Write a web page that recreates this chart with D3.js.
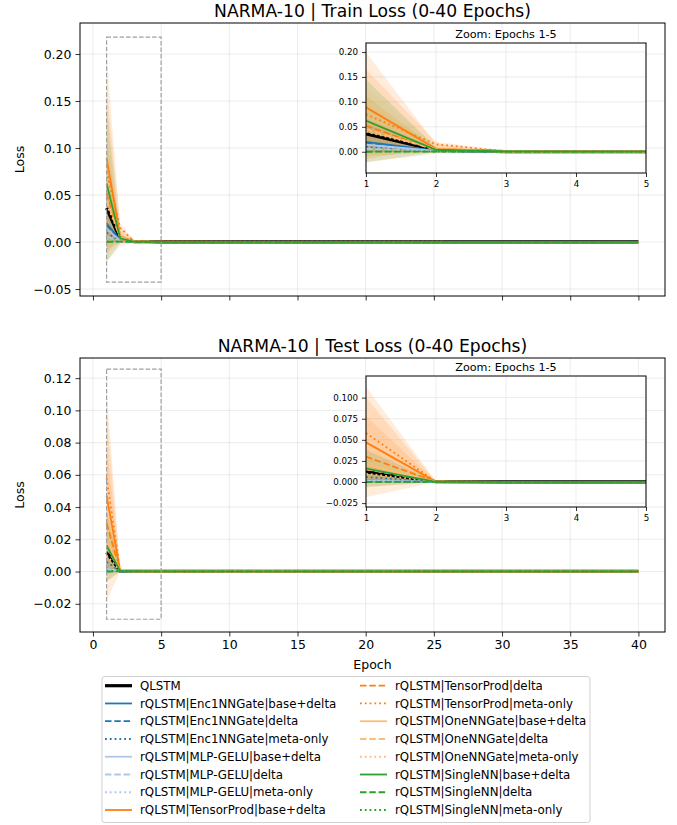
<!DOCTYPE html>
<html>
<head>
<meta charset="utf-8">
<script src="https://cdn.jsdelivr.net/npm/d3@7"></script>
<style>
  body { margin: 0; background: #fff; }
  svg { font-family: "DejaVu Sans", sans-serif; }
  .tick text { fill: #000; }
</style>
</head>
<body>
<script>
// epochs that carry values (curves are flat after epoch 5)
const epochs = [1, 2, 3, 4, 5, 40];

const seriesNames = [
    'QLSTM',
    'rQLSTM|Enc1NNGate|base+delta', 'rQLSTM|Enc1NNGate|delta', 'rQLSTM|Enc1NNGate|meta-only',
    'rQLSTM|MLP-GELU|base+delta', 'rQLSTM|MLP-GELU|delta', 'rQLSTM|MLP-GELU|meta-only',
    'rQLSTM|TensorProd|base+delta', 'rQLSTM|TensorProd|delta', 'rQLSTM|TensorProd|meta-only',
    'rQLSTM|OneNNGate|base+delta', 'rQLSTM|OneNNGate|delta', 'rQLSTM|OneNNGate|meta-only',
    'rQLSTM|SingleNN|base+delta', 'rQLSTM|SingleNN|delta', 'rQLSTM|SingleNN|meta-only'
];

// mean / std per series, one row per series, columns follow `epochs`
const trainMean = [
    [0.036, 0.003, 0.0004, 0.0003, 0.0002, 0.0001],
    [0.020, 0.002, 0.0003, 0.0002, 0.0002, 0.0001],
    [0.018, 0.0015, 0.0003, 0.0002, 0.0001, 0.0001],
    [0.010, 0.001, 0.0002, 0.0002, 0.0001, 0.0001],
    [0.014, 0.0015, 0.0003, 0.0002, 0.0001, 0.0001],
    [0.006, 0.001, 0.0002, 0.0001, 0.0001, 0.0001],
    [0.003, 0.0008, 0.0002, 0.0001, 0.0001, 0.0001],
    [0.089, 0.006, 0.0006, 0.0004, 0.0003, 0.0002],
    [0.052, 0.003, 0.0005, 0.0003, 0.0002, 0.0001],
    [0.075, 0.015, 0.0010, 0.0005, 0.0004, 0.0002],
    [0.060, 0.005, 0.0005, 0.0003, 0.0002, 0.0001],
    [0.045, 0.004, 0.0004, 0.0003, 0.0002, 0.0001],
    [0.040, 0.006, 0.0005, 0.0003, 0.0002, 0.0001],
    [0.062, 0.004, 0.0005, 0.0003, 0.0002, 0.0001],
    [0.000, 0.0005, 0.0002, 0.0001, 0.0001, 0.0001],
    [0.0008, 0.0005, 0.0002, 0.0001, 0.0001, 0.0001]
];
const trainStd = [
    [0.030, 0.003, 0.0005, 0.0003, 0.0002, 0.0001],
    [0.020, 0.002, 0.0003, 0.0002, 0.0002, 0.0001],
    [0.015, 0.002, 0.0003, 0.0002, 0.0001, 0.0001],
    [0.010, 0.001, 0.0002, 0.0002, 0.0001, 0.0001],
    [0.012, 0.0015, 0.0003, 0.0002, 0.0001, 0.0001],
    [0.006, 0.001, 0.0002, 0.0001, 0.0001, 0.0001],
    [0.003, 0.0008, 0.0002, 0.0001, 0.0001, 0.0001],
    [0.110, 0.010, 0.0010, 0.0004, 0.0003, 0.0002],
    [0.060, 0.004, 0.0005, 0.0003, 0.0002, 0.0001],
    [0.090, 0.005, 0.0010, 0.0005, 0.0004, 0.0002],
    [0.070, 0.006, 0.0005, 0.0003, 0.0002, 0.0001],
    [0.050, 0.005, 0.0004, 0.0003, 0.0002, 0.0001],
    [0.040, 0.006, 0.0005, 0.0003, 0.0002, 0.0001],
    [0.083, 0.005, 0.0005, 0.0003, 0.0002, 0.0001],
    [0.001, 0.0005, 0.0002, 0.0001, 0.0001, 0.0001],
    [0.001, 0.0005, 0.0002, 0.0001, 0.0001, 0.0001]
];

const testMean = [
    [0.012, 0.0003, 0.0002, 0.0002, 0.0002, 0.0001],
    [0.002, 0.0002, 0.0002, 0.0001, 0.0001, 0.0001],
    [0.001, 0.0002, 0.0001, 0.0001, 0.0001, 0.0001],
    [0.006, 0.0002, 0.0001, 0.0001, 0.0001, 0.0001],
    [0.002, 0.0002, 0.0001, 0.0001, 0.0001, 0.0001],
    [0.001, 0.0002, 0.0001, 0.0001, 0.0001, 0.0001],
    [0.0005, 0.0002, 0.0001, 0.0001, 0.0001, 0.0001],
    [0.047, 0.0003, 0.0002, 0.0002, 0.0001, 0.0001],
    [0.030, 0.0003, 0.0002, 0.0001, 0.0001, 0.0001],
    [0.058, 0.0004, 0.0002, 0.0002, 0.0001, 0.0001],
    [0.020, 0.0003, 0.0002, 0.0001, 0.0001, 0.0001],
    [0.015, 0.0003, 0.0002, 0.0001, 0.0001, 0.0001],
    [0.010, 0.0003, 0.0002, 0.0001, 0.0001, 0.0001],
    [0.016, 0.0003, 0.0002, 0.0001, 0.0001, 0.0001],
    [0.000, 0.0002, 0.0001, 0.0001, 0.0001, 0.0001],
    [0.0005, 0.0002, 0.0001, 0.0001, 0.0001, 0.0001]
];
const testStd = [
    [0.008, 0.0002, 0.0001, 0.0001, 0.0001, 0.0001],
    [0.003, 0.0002, 0.0001, 0.0001, 0.0001, 0.0001],
    [0.002, 0.0002, 0.0001, 0.0001, 0.0001, 0.0001],
    [0.005, 0.0002, 0.0001, 0.0001, 0.0001, 0.0001],
    [0.002, 0.0002, 0.0001, 0.0001, 0.0001, 0.0001],
    [0.001, 0.0002, 0.0001, 0.0001, 0.0001, 0.0001],
    [0.0005, 0.0002, 0.0001, 0.0001, 0.0001, 0.0001],
    [0.053, 0.0003, 0.0002, 0.0001, 0.0001, 0.0001],
    [0.048, 0.0003, 0.0002, 0.0001, 0.0001, 0.0001],
    [0.055, 0.0004, 0.0002, 0.0001, 0.0001, 0.0001],
    [0.020, 0.0003, 0.0002, 0.0001, 0.0001, 0.0001],
    [0.015, 0.0003, 0.0002, 0.0001, 0.0001, 0.0001],
    [0.012, 0.0003, 0.0002, 0.0001, 0.0001, 0.0001],
    [0.022, 0.0003, 0.0002, 0.0001, 0.0001, 0.0001],
    [0.001, 0.0002, 0.0001, 0.0001, 0.0001, 0.0001],
    [0.001, 0.0002, 0.0001, 0.0001, 0.0001, 0.0001]
];

const mainXTicks = [0, 5, 10, 15, 20, 25, 30, 35, 40];
const trainYTicks = [-0.05, 0, 0.05, 0.10, 0.15, 0.20];
const testYTicks = [-0.02, 0, 0.02, 0.04, 0.06, 0.08, 0.10, 0.12];
const zoomXTicks = [1, 2, 3, 4, 5];
const trainZoomYTicks = [0, 0.05, 0.10, 0.15, 0.20];
const testZoomYTicks = [-0.025, 0, 0.025, 0.05, 0.075, 0.1];

// styles
const familyColors = ['#000000', '#1f77b4', '#1f77b4', '#1f77b4', '#aec7e8', '#aec7e8', '#aec7e8',
    '#ff7f0e', '#ff7f0e', '#ff7f0e', '#ffbb78', '#ffbb78', '#ffbb78', '#2ca02c', '#2ca02c', '#2ca02c'];
const dashFor = i => i === 0 ? null : ['', '6.5,2.8', '1.8,3'][(i - 1) % 3] || null;
const widthFor = i => i === 0 ? 3.2 : 1.8;

const W = 677, H = 825;
const svg = d3.select('body').append('svg').attr('width', W).attr('height', H);

let clipId = 0;

function drawAxes(g, box, xDomain, yDomain, xTicks, yTicks, opts) {
    const x = d3.scaleLinear().domain(xDomain).range([box.x, box.x + box.w]);
    const y = d3.scaleLinear().domain(yDomain).range([box.y + box.h, box.y]);
    const fs = opts.fontSize;

    g.append('rect').attr('x', box.x).attr('y', box.y).attr('width', box.w).attr('height', box.h)
        .attr('fill', '#fff');

    // grid
    g.append('g').selectAll('line').data(xTicks).join('line')
        .attr('x1', d => x(d)).attr('x2', d => x(d)).attr('y1', box.y).attr('y2', box.y + box.h)
        .attr('stroke', '#b0b0b0').attr('stroke-opacity', 0.3).attr('stroke-width', 0.8);
    g.append('g').selectAll('line').data(yTicks).join('line')
        .attr('x1', box.x).attr('x2', box.x + box.w).attr('y1', d => y(d)).attr('y2', d => y(d))
        .attr('stroke', '#b0b0b0').attr('stroke-opacity', 0.3).attr('stroke-width', 0.8);

    const id = 'clip' + (clipId++);
    g.append('clipPath').attr('id', id).append('rect')
        .attr('x', box.x).attr('y', box.y).attr('width', box.w).attr('height', box.h);
    const plot = g.append('g').attr('clip-path', `url(#${id})`);

    // std bands
    const area = d3.area().x(d => x(d.e)).y0(d => y(d.m - d.s)).y1(d => y(d.m + d.s));
    const line = d3.line().x(d => x(d.e)).y(d => y(d.m));
    const rows = seriesNames.map((n, i) => epochs.map((e, j) => ({ e, m: opts.mean[i][j], s: opts.std[i][j] })));
    rows.forEach((r, i) => {
        plot.append('path').attr('d', area(r)).attr('fill', familyColors[i]).attr('fill-opacity', 0.15);
    });
    rows.forEach((r, i) => {
        plot.append('path').attr('d', line(r)).attr('fill', 'none')
            .attr('stroke', familyColors[i]).attr('stroke-width', widthFor(i))
            .attr('stroke-dasharray', dashFor(i));
    });

    if (opts.rect) {
        plot.append('rect')
            .attr('x', x(opts.rect.x0)).attr('y', y(opts.rect.y1))
            .attr('width', x(opts.rect.x1) - x(opts.rect.x0)).attr('height', y(opts.rect.y0) - y(opts.rect.y1))
            .attr('fill', 'none').attr('stroke', '#a0a0a0').attr('stroke-width', 1.2)
            .attr('stroke-dasharray', '4.5,2');
    }

    // axes
    const xAxis = d3.axisBottom(x).tickValues(xTicks).tickSizeOuter(0).tickSize(opts.tickLen).tickPadding(opts.pad);
    xAxis.tickFormat(opts.xLabels ? d3.format('d') : () => '');
    const ax = g.append('g').attr('transform', `translate(0,${box.y + box.h})`).call(xAxis);
    const ay = g.append('g').attr('transform', `translate(${box.x},0)`)
        .call(d3.axisLeft(y).tickValues(yTicks).tickSizeOuter(0).tickSize(opts.tickLen).tickPadding(opts.pad)
            .tickFormat(d3.format(opts.yFormat)));
    [ax, ay].forEach(a => {
        a.select('.domain').remove();
        a.selectAll('text').attr('font-size', fs).attr('font-family', '"DejaVu Sans", sans-serif');
        a.selectAll('line').attr('stroke', '#000').attr('stroke-width', 0.8);
    });

    g.append('rect').attr('x', box.x).attr('y', box.y).attr('width', box.w).attr('height', box.h)
        .attr('fill', 'none').attr('stroke', '#000').attr('stroke-width', 1);
    return { x, y };
}

function drawPanel(cfg) {
    const g = svg.append('g');
    drawAxes(g, cfg.box, [-0.95, 41.95], cfg.yDomain, mainXTicks, cfg.yTicks, {
        fontSize: 12.5, tickLen: 4.5, pad: 4, yFormat: '.2f', xLabels: cfg.xLabels,
        mean: cfg.mean, std: cfg.std,
        rect: { x0: 1, x1: 5, y0: cfg.zoomY[0], y1: cfg.zoomY[1] }
    });
    g.append('text').attr('x', cfg.box.x + cfg.box.w / 2).attr('y', cfg.box.y - 6)
        .attr('text-anchor', 'middle').attr('font-size', 17.2).text(cfg.title);
    g.append('text')
        .attr('transform', `translate(24,${cfg.box.y + cfg.box.h / 2}) rotate(-90)`)
        .attr('text-anchor', 'middle').attr('font-size', 12.5).text('Loss');

    const zg = svg.append('g');
    drawAxes(zg, cfg.zoomBox, [1, 5], cfg.zoomY, zoomXTicks, cfg.zoomYTicks, {
        fontSize: 8.7, tickLen: 4, pad: 4, yFormat: cfg.zoomFormat, xLabels: true,
        mean: cfg.mean, std: cfg.std
    });
    zg.append('text').attr('x', cfg.zoomBox.x + cfg.zoomBox.w / 2).attr('y', cfg.zoomBox.y - 5)
        .attr('text-anchor', 'middle').attr('font-size', 11.2).text('Zoom: Epochs 1-5');
}

drawPanel({
    title: 'NARMA-10 | Train Loss (0-40 Epochs)',
    box: { x: 80, y: 23, w: 585, h: 273 },
    yDomain: [-0.0574, 0.233], yTicks: trainYTicks, xLabels: false,
    mean: trainMean, std: trainStd,
    zoomBox: { x: 366, y: 43, w: 280, h: 130 },
    zoomY: [-0.0426, 0.218], zoomYTicks: trainZoomYTicks, zoomFormat: '.2f'
});

drawPanel({
    title: 'NARMA-10 | Test Loss (0-40 Epochs)',
    box: { x: 80, y: 358, w: 585, h: 274 },
    yDomain: [-0.0375, 0.1325], yTicks: testYTicks, xLabels: true,
    mean: testMean, std: testStd,
    zoomBox: { x: 366, y: 376, w: 280, h: 131 },
    zoomY: [-0.0296, 0.1256], zoomYTicks: testZoomYTicks, zoomFormat: '.3f'
});

svg.append('text').attr('x', 80 + 585 / 2).attr('y', 669).attr('text-anchor', 'middle')
    .attr('font-size', 12.5).text('Epoch');

// legend
const legend = svg.append('g');
legend.append('rect').attr('x', 102).attr('y', 676.5).attr('width', 488).attr('height', 146).attr('rx', 2.5)
    .attr('fill', '#fff').attr('stroke', '#d0d0d0').attr('stroke-width', 1);
seriesNames.forEach((n, i) => {
    const col = i < 8 ? 0 : 1, row = i % 8;
    const lx = col === 0 ? 105 : 360, ly = 685.7 + row * 17.76;
    legend.append('line').attr('x1', lx).attr('x2', lx + 27).attr('y1', ly).attr('y2', ly)
        .attr('stroke', familyColors[i]).attr('stroke-width', widthFor(i))
        .attr('stroke-dasharray', dashFor(i));
    legend.append('text').attr('x', lx + 35).attr('y', ly).attr('dy', '0.35em')
        .attr('font-size', 11.8).text(n);
});
</script>
</body>
</html>
